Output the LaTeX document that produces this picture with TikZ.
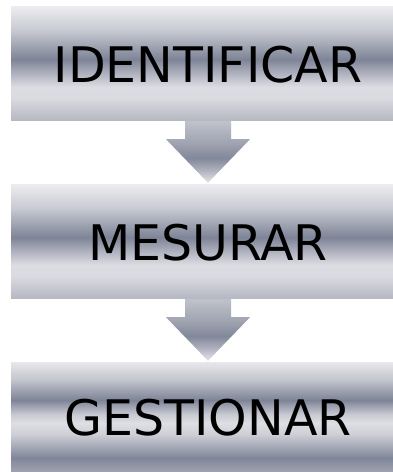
\documentclass[tikz,border=0pt]{standalone}
\usepackage{fontspec}
\setmainfont{DejaVu Sans}
\definecolor{ga}{HTML}{EBEBEF}
\definecolor{gb}{HTML}{C9CBD3}
\definecolor{gc}{HTML}{7E8497}
\definecolor{gd}{HTML}{B6B8C4}
\definecolor{ge}{HTML}{DCDDE2}
\definecolor{gf}{HTML}{DADBE0}
\definecolor{gg}{HTML}{B4B6C1}
\definecolor{ha}{HTML}{E6E6EA}
\definecolor{hb}{HTML}{C4C6CE}
\definecolor{hc}{HTML}{7E8497}
\definecolor{hd}{HTML}{C8CAD2}
\definecolor{he}{HTML}{DEDFE3}
\definecolor{hf}{HTML}{CFD0D7}
\definecolor{hg}{HTML}{80869A}
\definecolor{hh}{HTML}{A0A4B2}
\definecolor{aa}{HTML}{C0C2CB}
\definecolor{ab}{HTML}{A0A4B1}
\definecolor{ac}{HTML}{82889B}
\definecolor{ad}{HTML}{B0B3BF}
\definecolor{ae}{HTML}{E6E6EA}
\pgfdeclareverticalshading{boxgrad}{100bp}{color(0bp)=(gg); color(25bp)=(gg); color(35bp)=(gf); color(40bp)=(ge); color(45bp)=(gd); color(52bp)=(gc); color(65bp)=(gb); color(75bp)=(ga); color(100bp)=(ga)}
\pgfdeclareverticalshading{boxgradlast}{100bp}{color(0bp)=(hh); color(25bp)=(hh); color(31.5bp)=(hg); color(42.5bp)=(hf); color(47.5bp)=(he); color(51.5bp)=(hd); color(58bp)=(hc); color(67.5bp)=(hb); color(75bp)=(ha); color(100bp)=(ha)}
\pgfdeclareverticalshading{arrowgrad}{100bp}{color(0bp)=(ae); color(25bp)=(ae); color(35bp)=(ad); color(45bp)=(ac); color(57.5bp)=(ab); color(75bp)=(aa); color(100bp)=(aa)}
\tikzset{
  stepbox/.style={rectangle, draw=none, inner sep=0pt, minimum width=394pt, text depth=0pt,
    font=\fontsize{49}{51}\selectfont, text=black},
  flowarrow/.style={draw=none, shading=arrowgrad}
}
\begin{document}
\begin{tikzpicture}[x=1pt,y=1pt]
\clip (0,0) rectangle (393,472);
\fill[white] (0,0) rectangle (393,472);
\node[stepbox, minimum height=114pt, shading=boxgrad] (b1) at (208,408) {IDENTIFICAR};
\node[stepbox, minimum height=114pt, shading=boxgrad] (b2) at (208,230) {MESURAR};
\node[stepbox, minimum height=109pt, shading=boxgradlast] (b3) at (208,54.5) {GESTIONAR};
\shade[flowarrow] ([xshift=-23pt]b1.south) -- ([xshift=23pt]b1.south)
  -- ([xshift=23pt,yshift=-18pt]b1.south) -- ([xshift=42pt,yshift=-18pt]b1.south)
  -- ([yshift=2pt]b2.north) -- ([xshift=-42pt,yshift=-18pt]b1.south)
  -- ([xshift=-23pt,yshift=-18pt]b1.south) -- cycle;
\shade[flowarrow] ([xshift=-23pt]b2.south) -- ([xshift=23pt]b2.south)
  -- ([xshift=23pt,yshift=-18pt]b2.south) -- ([xshift=42pt,yshift=-18pt]b2.south)
  -- ([yshift=2pt]b3.north) -- ([xshift=-42pt,yshift=-18pt]b2.south)
  -- ([xshift=-23pt,yshift=-18pt]b2.south) -- cycle;
\end{tikzpicture}
\end{document}
